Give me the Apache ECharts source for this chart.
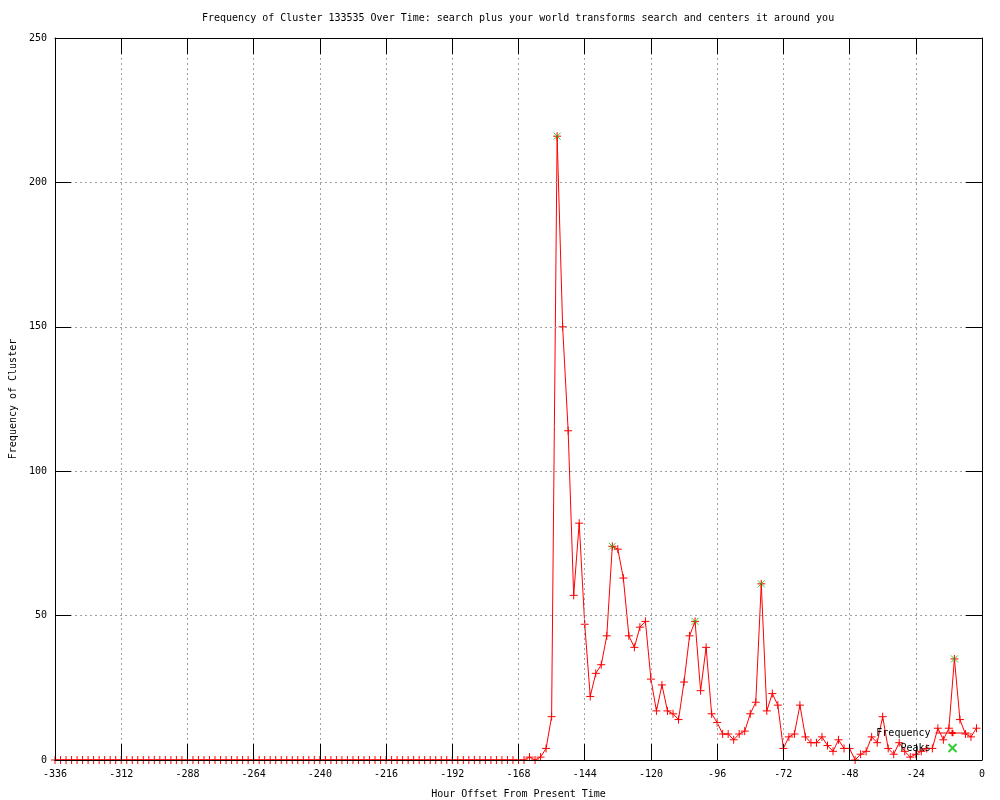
<!DOCTYPE html>
<html>
<head>
<meta charset="utf-8">
<script src="https://cdn.jsdelivr.net/npm/echarts@6/dist/echarts.min.js"></script>
<style>
html,body{margin:0;padding:0;background:#fff;}
#chart{width:1000px;height:800px;}
</style>
</head>
<body>
<div id="chart"></div>
<script>
// Two-hour sampling grid, hour offsets -336 .. -2
const hourStart = -336;
const hourStep = 2;
// Frequency per 2-hour bin
const frequency = [
  0,0,0,0,0,0,0,0,0,0, 0,0,0,0,0,0,0,0,0,0,
  0,0,0,0,0,0,0,0,0,0, 0,0,0,0,0,0,0,0,0,0,
  0,0,0,0,0,0,0,0,0,0, 0,0,0,0,0,0,0,0,0,0,
  0,0,0,0,0,0,0,0,0,0, 0,0,0,0,0,0,0,0,0,0,
  0,0,0,0,0,0,1,0,1,4, 15,216,150,114,57,82,47,22,30,33,
  43,74,73,63,43,39,46,48,28,17, 26,17,16,14,27,43,48,24,39,16,
  13,9,9,7,9,10,16,20,61,17, 23,19,4,8,9,19,8,6,6,8,
  5,3,7,4,4,0,2,3,8,6, 15,4,2,6,3,1,2,3,4,4,
  11,7,11,35,14,9,8,11
];
const peakHours = [-154, -134, -104, -80, -10];
const peakValues = [216, 74, 48, 61, 35];
const xTicks = [-336,-312,-288,-264,-240,-216,-192,-168,-144,-120,-96,-72,-48,-24,0];
const yTicks = [0,50,100,150,200,250];

const hours = frequency.map((_, i) => hourStart + hourStep * i);
const freqData = hours.map((h, i) => [h, frequency[i]]);
const peakData = peakHours.map((h, i) => [h, peakValues[i]]);

const FONT = 'DejaVu Sans Mono';
const chart = echarts.init(document.getElementById('chart'), null, {renderer: 'canvas'});
const gridLine = {show: true, lineStyle: {color: '#a0a0a0', type: [2, 3], width: 1}};
const option = {
  animation: false,
  backgroundColor: '#fff',
  textStyle: {fontFamily: FONT},
  title: {
    text: 'Frequency of Cluster 133535 Over Time: search plus your world transforms search and centers it around you',
    left: 202, top: 13, padding: 0,
    textStyle: {fontFamily: FONT, fontSize: 10, fontWeight: 'normal', color: '#000'}
  },
  grid: {left: 55, right: 18, top: 38, bottom: 40, containLabel: false, outerBoundsMode: 'none'},
  legend: {
    orient: 'vertical', right: 30, top: 728, padding: 0,
    itemWidth: 34, itemHeight: 8, itemGap: 5, align: 'right',
    textStyle: {fontFamily: FONT, fontSize: 10, color: '#000'},
    lineStyle: {width: 1},
    data: ['Frequency', 'Peaks']
  },
  xAxis: [{
    type: 'value', min: -336, max: 0, interval: 24, position: 'bottom', z: 5,
    axisLine: {show: true, onZero: false, lineStyle: {color: '#000', width: 1}},
    axisTick: {show: true, inside: true, length: 16, lineStyle: {color: '#000'}},
    axisLabel: {show: true, margin: 9, fontFamily: FONT, fontSize: 10, color: '#000',
      formatter: v => xTicks.includes(v) ? String(v) : ''},
    splitLine: gridLine,
    name: 'Hour Offset From Present Time', nameLocation: 'middle', nameGap: 29,
    nameTextStyle: {fontFamily: FONT, fontSize: 10, color: '#000'}
  }, {
    type: 'value', min: -336, max: 0, interval: 24, position: 'top', z: 5,
    axisLine: {show: true, onZero: false, lineStyle: {color: '#000', width: 1}},
    axisTick: {show: true, inside: true, length: 16, lineStyle: {color: '#000'}},
    axisLabel: {show: false}, splitLine: {show: false}
  }],
  yAxis: [{
    type: 'value', min: 0, max: 250, interval: 50, position: 'left', z: 5,
    axisLine: {show: true, onZero: false, lineStyle: {color: '#000', width: 1}},
    axisTick: {show: true, inside: true, length: 16, lineStyle: {color: '#000'}},
    axisLabel: {show: true, margin: 8, fontFamily: FONT, fontSize: 10, color: '#000',
      formatter: v => yTicks.includes(v) ? String(v) : ''},
    splitLine: gridLine,
    name: 'Frequency of Cluster', nameLocation: 'middle', nameGap: 37, nameRotate: 90,
    nameTextStyle: {fontFamily: FONT, fontSize: 10, color: '#000'}
  }, {
    type: 'value', min: 0, max: 250, interval: 50, position: 'right', z: 5,
    axisLine: {show: true, onZero: false, lineStyle: {color: '#000', width: 1}},
    axisTick: {show: true, inside: true, length: 16, lineStyle: {color: '#000'}},
    axisLabel: {show: false}, splitLine: {show: false}
  }],
  series: [{
    name: 'Frequency', type: 'line', data: freqData,
    xAxisIndex: 0, yAxisIndex: 0,
    showSymbol: true, showAllSymbol: true,
    symbol: 'path://M0,5H10M5,0V10', symbolSize: 8,
    lineStyle: {color: '#ff0000', width: 1},
    itemStyle: {color: '#ff0000', borderColor: '#ff0000', borderWidth: 1},
    emphasis: {disabled: true}, z: 3
  }, {
    name: 'Peaks', type: 'scatter', data: peakData,
    xAxisIndex: 0, yAxisIndex: 0,
    symbol: 'path://M0,0L10,10M10,0L0,10', symbolSize: 7, symbolKeepAspect: true,
    itemStyle: {color: '#00c000', borderColor: '#00c000', borderWidth: 1},
    emphasis: {disabled: true}, z: 4
  }]
};
chart.setOption(option);
</script>
</body>
</html>
